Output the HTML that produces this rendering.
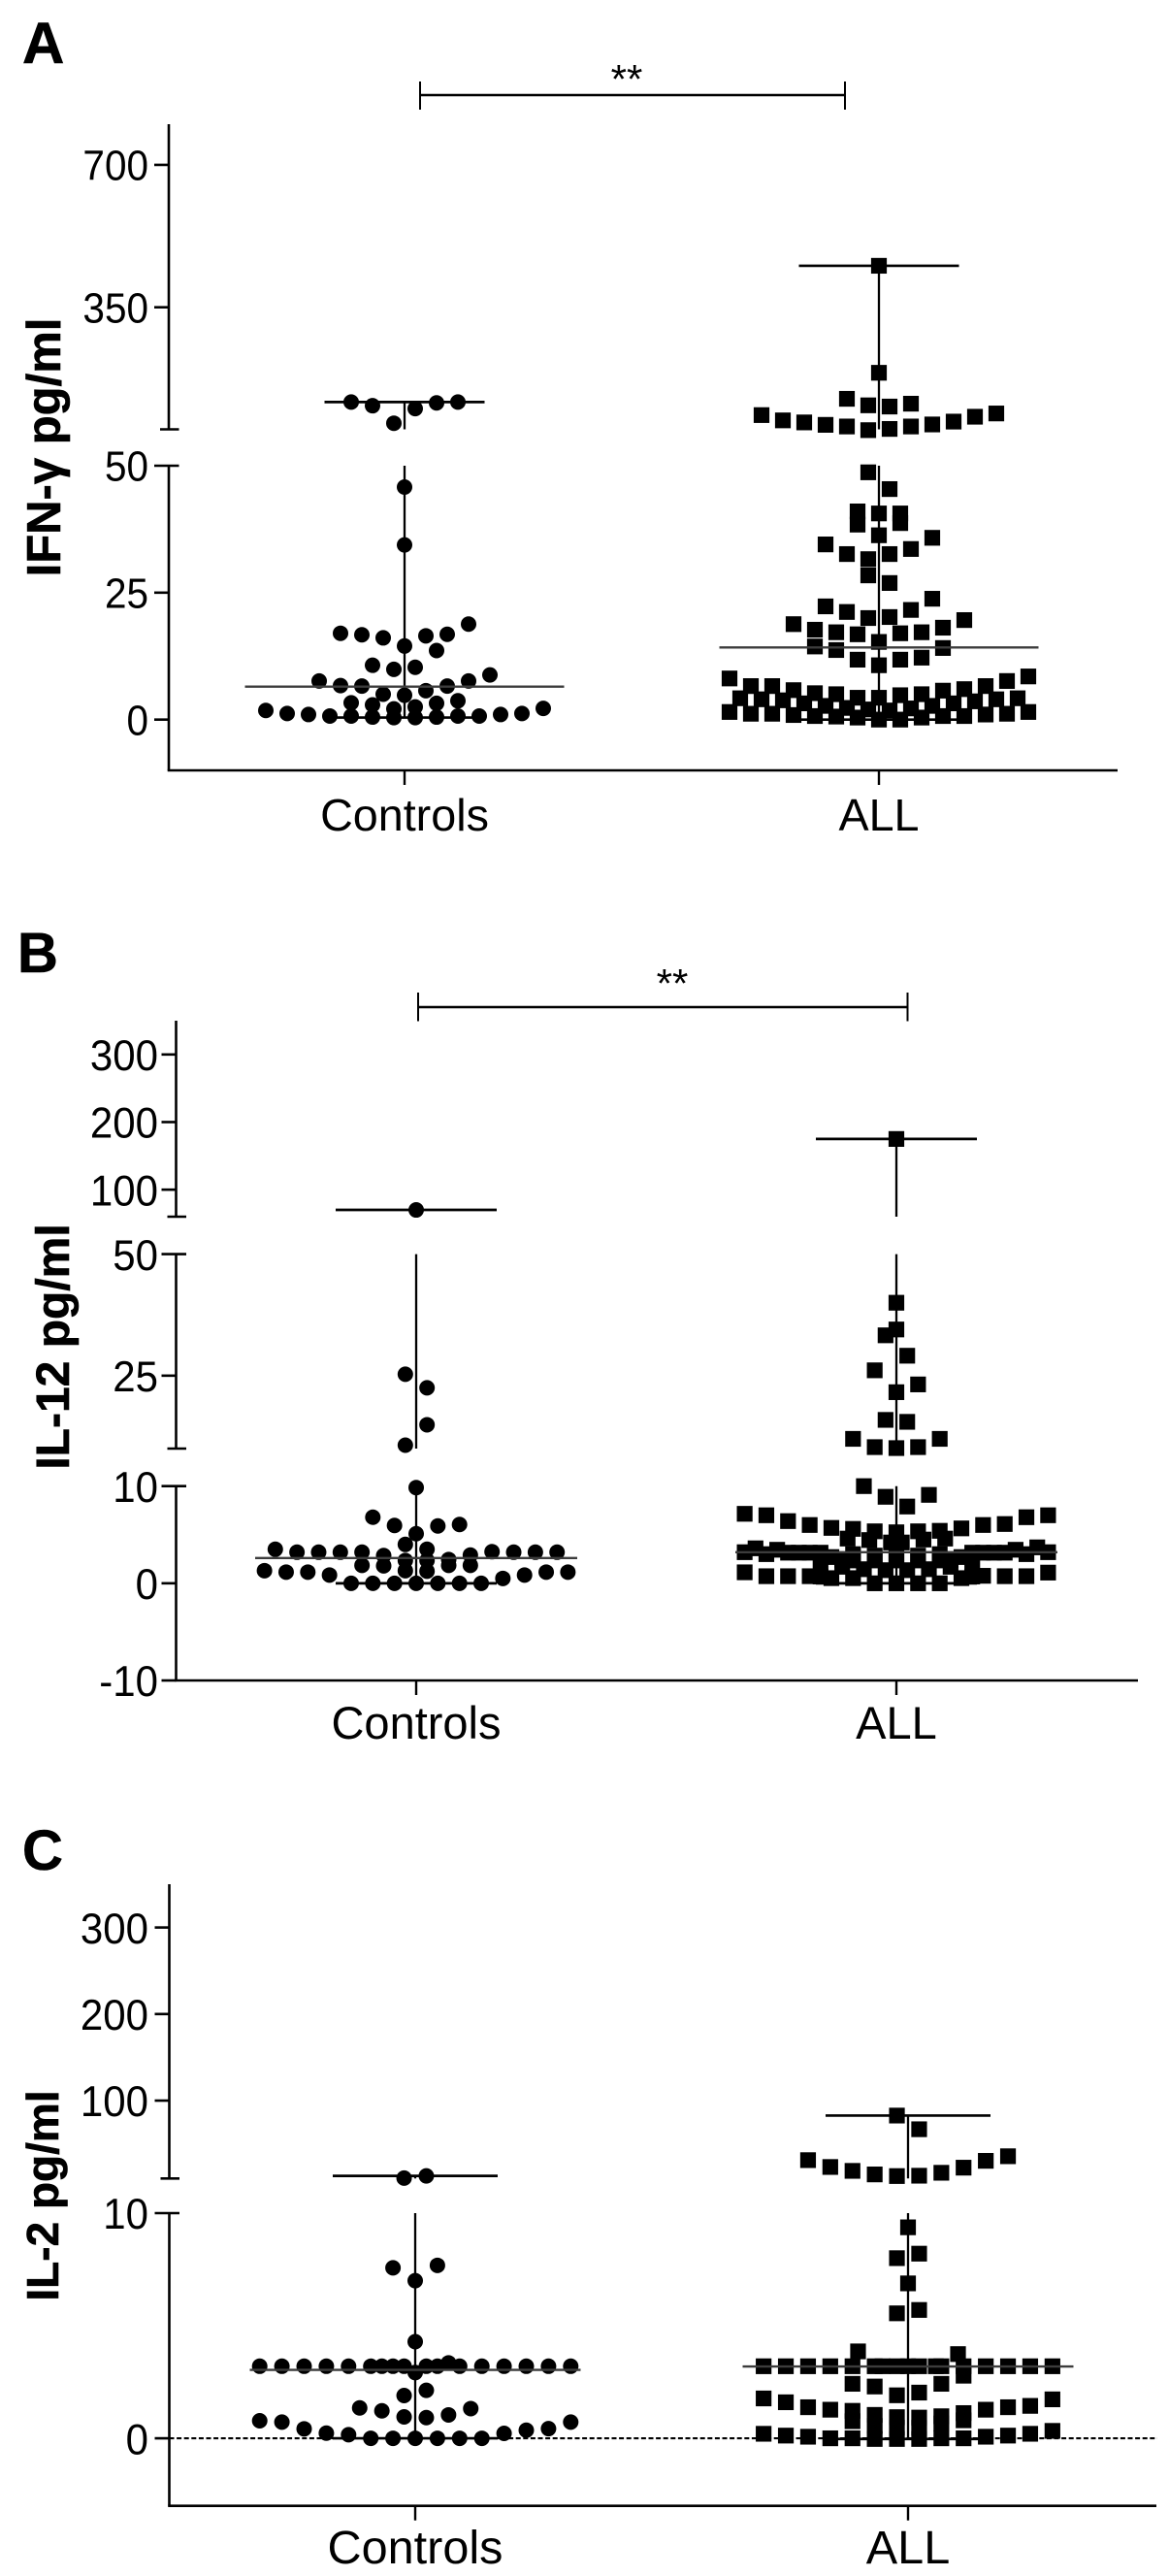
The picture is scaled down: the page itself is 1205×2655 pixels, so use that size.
<!DOCTYPE html>
<html lang="en">
<head>
<meta charset="utf-8">
<title>Cytokine levels in controls and ALL</title>
<style>
html,body{margin:0;padding:0;background:#fff;}
svg{display:block;}
text{font-family:"Liberation Sans",sans-serif;fill:#000;}
.title{font-weight:bold;stroke:#000;stroke-width:0.6;}
</style>
</head>
<body>
<svg id="figure" xmlns="http://www.w3.org/2000/svg" width="1205" height="2655" viewBox="0 0 1205 2655">
  <rect x="0" y="0" width="1205" height="2655" fill="#fff"/>

  <g id="panel-a">
    <text class="title" x="23" y="65" font-size="60">A</text>
    <text class="title" transform="translate(62 461) rotate(-90)" text-anchor="middle" font-size="49">IFN-γ pg/ml</text>
    <g stroke="#000" fill="none">
      <line x1="433" y1="98" x2="871" y2="98" stroke-width="2.4"/>
      <line x1="433" y1="84" x2="433" y2="113" stroke-width="2"/>
      <line x1="871" y1="84" x2="871" y2="113" stroke-width="2"/>
    </g>
    <text x="646" y="96" text-anchor="middle" font-size="42">**</text>
  </g>

  <g id="panel-b">
    <text class="title" x="18" y="1002" font-size="58">B</text>
    <text class="title" transform="translate(71 1388) rotate(-90)" text-anchor="middle" font-size="48">IL-12 pg/ml</text>
    <g stroke="#000" fill="none">
      <line x1="431" y1="1038" x2="935.5" y2="1038" stroke-width="2.4"/>
      <line x1="431" y1="1023" x2="431" y2="1052.5" stroke-width="2"/>
      <line x1="935.5" y1="1023" x2="935.5" y2="1052.5" stroke-width="2"/>
    </g>
    <text x="693" y="1028" text-anchor="middle" font-size="42">**</text>
  </g>

  <g id="panel-c">
    <text class="title" x="23" y="1927" font-size="58">C</text>
    <text class="title" transform="translate(60 2263) rotate(-90)" text-anchor="middle" font-size="46">IL-2 pg/ml</text>
  </g>
</svg>

<script>
// ---------- Shared categories ----------
const categories = ['Controls', 'ALL'];

// ---------- Panel A: IFN-gamma ----------
const aUpperTicks = [350, 700];
const aLowerTicks = [0, 25, 50];
const aMedians = [6.5, 14.2];

const aControlsUpperValues = [117, 108, 65, 101, 115, 117];
const aControlsUpperSlots = [-5, -3, -1, 1, 3, 5];
const aControlsLowerValues = [1.8, 1.2, 1.0, 0.7, 0.7, 0.5, 0.4, 0.4, 0.5, 0.7, 0.7, 1.0, 1.2, 2.2, 3.3, 2.9, 2.1, 2.5, 3.2, 3.7, 5.0, 4.8, 5.7, 7.6, 6.7, 6.6, 6.6, 7.6, 8.8, 10.7, 9.9, 10.3, 17.0, 16.7, 16.1, 14.5, 16.5, 13.6, 16.8, 18.8, 34.4, 45.8];
const aControlsLowerSlots = [-13, -11, -9, -7, -5, -3, -1, 1, 3, 5, 7, 9, 11, 13, -5, -3, -1, 1, 3, 5, -2, 0, 2, -8, -6, -4, 4, 6, 8, -3, -1, 1, -6, -4, -2, 0, 2, 3, 4, 6, 0, 0];

const aAllUpperValues = [452, 189, 125, 109, 106, 113, 85, 72, 67, 61, 57, 48, 51, 57, 62, 69, 81, 89];
const aAllUpperSlots = [0, 0, -3, -1, 1, 3, -11, -9, -7, -5, -3, -1, 1, 3, 5, 7, 9, 11];
const aAllLowerValues = [1.5, 1.15, 1.15, 0.9, 0.7, 0.6, 0.4, 0, 0, 0.4, 0.7, 0.7, 1.0, 1.15, 1.5, 4.2, 4.0, 3.8, 3.2, 2.7, 2.3, 2.0, 1.8, 2.2, 2.7, 3.2, 3.6, 4.0, 4.2, 8.1, 6.6, 6.6, 5.8, 5.2, 5.0, 4.3, 4.3, 4.8, 5.0, 5.7, 6.0, 6.6, 7.6, 8.5, 11.8, 10.7, 11.8, 12.2, 14.4, 13.7, 15.3, 14.1, 18.8, 17.7, 17.2, 16.8, 17.0, 17.2, 18.1, 19.6, 22.3, 21.2, 20.0, 20.2, 21.6, 23.8, 28.4, 26.9, 34.5, 32.6, 31.6, 32.6, 33.6, 35.8, 36.3, 41.0, 38.4, 40.6, 38.7, 40.6, 48.7, 45.4];
const aAllLowerSlots = [-14, -12, -10, -8, -6, -4, -2, 0, 2, 4, 6, 8, 10, 12, 14, -13, -11, -9, -7, -5, -3, -1, 1, 3, 5, 7, 9, 11, 13, -14, -12, -10, -8, -6, -4, -2, 0, 2, 4, 6, 8, 10, 12, 14, -2, 0, 2, 4, -6, -4, 0, 6, -8, -6, -4, -2, 2, 4, 6, 8, -5, -3, -1, 1, 3, 5, -1, 1, -5, -3, -1, 1, 3, 5, 0, -2, -2, 2, 2, 0, -1, 1];

// ---------- Panel B: IL-12 ----------
const bUpperTicks = [100, 200, 300];
const bMiddleTicks = [25, 50];
const bLowerTicks = ['-10', 0, 10];
const bMedians = [2.6, 3.2];

const bControlsUpperValues = [70];
const bControlsUpperSlots = [0];
const bControlsMiddleValues = [25.3, 22.5, 14.9, 10.7];
const bControlsMiddleSlots = [-1, 1, 1, -1];
const bControlsLowerValues = [0, 0, 0, 0, 0, 0, 0, 0.5, 0.85, 1.15, 1.15, 1.3, 1.15, 1.15, 0.85, 1.85, 1.8, 1.3, 1.25, 1.85, 1.85, 2.35, 2.35, 2.45, 3.5, 3.2, 3.2, 3.2, 3.2, 2.85, 4.0, 3.5, 2.9, 3.25, 3.2, 3.2, 3.2, 5.1, 9.85, 6.8, 5.95, 5.9, 6.05];
const bControlsLowerSlots = [-6, -4, -2, 0, 2, 4, 6, 8, 10, 12, 14, -14, -12, -10, -8, -5, -3, -1, 1, 3, 5, -1, 1, 3, -13, -11, -9, -7, -5, -3, -1, 1, 5, 7, 9, 11, 13, 0, 0, -4, -2, 2, 4];

const bAllUpperValues = [175];
const bAllUpperSlots = [0];
const bAllMiddleValues = [40.0, 34.5, 33.3, 29.1, 26.1, 23.2, 21.6, 15.9, 15.5, 12.0, 10.3, 10.1, 10.3, 12.0];
const bAllMiddleSlots = [0, 0, -1, 1, -2, 2, 0, -1, 1, -4, -2, 0, 2, 4];
const bAllLowerValues = [1.13, 0.73, 0.73, 0.73, 0.53, 0.53, 0, 0, 0, 0, 0.53, 0.77, 0.73, 0.73, 1.1, 1.85, 1.7, 1.45, 1.35, 1.35, 1.45, 1.7, 1.85, 0.7, 0.7, 3.2, 3.6, 3.0, 3.45, 3.15, 3.15, 3.15, 3.15, 2.7, 2.4, 3.2, 3.7, 3.0, 3.45, 3.15, 3.15, 3.15, 3.15, 2.7, 2.4, 2.35, 2.35, 2.35, 2.35, 2.35, 3.0, 2.85, 2.85, 2.85, 3.0, 5.6, 4.6, 5.35, 4.45, 5.25, 4.2, 4.2, 5.35, 4.5, 5.4, 4.6, 7.15, 7.0, 6.4, 6.0, 5.7, 5.65, 6.0, 6.1, 6.8, 7.0, 10.0, 8.9, 7.9, 9.1];
const bAllLowerSlots = [-14, -12, -10, -8, -6, -4, -2, 0, 2, 4, 6, 8, 10, 12, 14, -7, -5, -3, -1, 1, 3, 5, 7, -7, 7, -14, -13, -12, -11, -10, -9, -8, -7, -6, -5, 14, 13, 12, 11, 10, 9, 8, 7, 6, 5, -4, -2, 0, 2, 4, -4, -2, 0, 2, 4, -4, -4.5, -2, -2.5, 0, -0.5, 0.5, 2, 2.5, 4, 4.5, -14, -12, -10, -8, -6, 6, 8, 10, 12, 14, -3, -1, 1, 3];

// ---------- Panel C: IL-2 ----------
const cUpperTicks = [100, 200, 300];
const cLowerTicks = [0, 10];
const cMedians = [3.04, 3.19];

const cControlsUpperValues = [10.5, 13];
const cControlsUpperSlots = [-1, 1];
const cControlsLowerValues = [0, 0, 0, 0, 0, 0, 0.16, 0.23, 0.42, 0.72, 0.78, 0.22, 0.36, 0.43, 0.72, 1.35, 1.22, 0.95, 0.92, 1.04, 1.32, 1.9, 2.13, 3.2, 3.2, 3.2, 3.2, 3.2, 3.2, 3.2, 3.2, 3.2, 2.92, 3.2, 3.2, 3.35, 3.2, 3.2, 3.2, 3.2, 3.2, 3.2, 4.29, 7.57, 7.0, 7.68];
const cControlsLowerSlots = [-4, -2, 0, 2, 4, 6, -6, -8, -10, -12, -14, 8, 10, 12, 14, -5, -3, -1, 1, 3, 5, -1, 1, -14, -12, -10, -8, -6, -4, -3, -2, -1, 0, 1, 2, 3, 4, 6, 8, 10, 12, 14, 0, -2, 0, 2];

const cAllUpperValues = [82.7, 66.9, 31.2, 23.3, 18.8, 14.7, 12.8, 13.2, 16.6, 22.5, 30.4, 35.7];
const cAllUpperSlots = [-1, 1, -9, -7, -5, -3, -1, 1, 3, 5, 7, 9];
const cAllLowerValues = [9.37, 8.0, 8.2, 6.88, 5.55, 5.7, 3.86, 3.74, 3.2, 3.2, 3.2, 3.2, 3.2, 3.2, 3.2, 3.2, 3.2, 3.2, 3.2, 3.2, 3.2, 3.2, 3.2, 3.2, 3.2, 2.78, 2.42, 2.3, 1.91, 2.03, 2.42, 1.77, 1.6, 1.38, 1.27, 1.27, 1.38, 1.44, 1.73, 1.22, 0.76, 1.04, 0.55, -0.03, 0.94, 0.47, -0.03, 0.92, 0.47, -0.03, 0.98, 0.66, 1.12, 0.8, 0.2, 0.12, 0.07, 0, 0, 0, 0, 0.07, 0.12, 0.2, 0.33];
const cAllLowerSlots = [0, -1, 1, 0, -1, 1, -4.5, 4.5, -13, -11, -9, -7, -5, -3, -2.3, -1, 0, 1, 2.5, 3, 5, 7, 9, 11, 13, 5, -5, -3, -1, 1, 3, -13, -11, -9, -7, 7, 9, 11, 13, -5, -5, -3, -3, -3, -1, -1, -1, 1, 1, 1, 3, 3, 5, 5, -13, -11, -9, -7, -5, 3, 5, 7, 9, 11, 13];

// ---------- Drawing ----------
const SVG_NS = 'http://www.w3.org/2000/svg';

function make(parent, tag, attrs, text) {
  const el = document.createElementNS(SVG_NS, tag);
  for (const key in attrs) el.setAttribute(key, attrs[key]);
  if (text !== undefined) el.textContent = text;
  parent.appendChild(el);
  return el;
}

function linearScale(domain, range) {
  return function (v) {
    return range[0] + (v - domain[0]) * (range[1] - range[0]) / (domain[1] - domain[0]);
  };
}

function drawPanel(cfg) {
  const root = document.getElementById(cfg.id);
  const axisGroup = make(root, 'g', { stroke: '#000', fill: 'none' });
  
  

  cfg.segments.forEach(function (seg, si) {
    seg.scale = linearScale(seg.domain, seg.range);
    const spine = make(axisGroup, 'line', { x1: cfg.axisX, x2: cfg.axisX, y1: seg.range[0], y2: seg.range[1], 'stroke-width': 2.6 });
    
    

    if (seg.breakBottom) {
      const endCap = make(axisGroup, 'line', { x1: cfg.axisX - 9, x2: cfg.axisX + 10.5, y1: seg.range[0], y2: seg.range[0], 'stroke-width': 2.6 });
      
      
    }

    seg.ticks.forEach(function (label) {
      const y = seg.scale(Number(label));
      const extendRight = Number(label) === seg.domain[1] && si > 0;
      const tick = make(axisGroup, 'line', { x1: cfg.axisX - 15, x2: cfg.axisX + (extendRight ? 10.5 : 0), y1: y, y2: y, 'stroke-width': 2.6 });
      
      
      const baseline = y + cfg.tickFont * 0.36 * 1.07;
      const tickText = make(root, 'text', { transform: 'translate(' + cfg.labelX + ' ' + baseline + ') scale(1 1.07)', 'text-anchor': 'end', 'font-size': cfg.tickFont }, String(label));
      
      
    });
  });

  const xAxis = make(axisGroup, 'line', { x1: cfg.axisX - 1.3, x2: cfg.xEnd, y1: cfg.xAxisY, y2: cfg.xAxisY, 'stroke-width': 2.6 });
  
  

  if (cfg.zeroLine) {
    const zeroY = cfg.segments[cfg.segments.length - 1].scale(0);
    const zero = make(axisGroup, 'line', { x1: cfg.axisX, x2: cfg.zeroLine, y1: zeroY, y2: zeroY, 'stroke-width': 2.2, 'stroke-dasharray': '5 2.6' });
    
    
  }

  cfg.groups.forEach(function (group, gi) {
    const name = cfg.key + '-' + categories[gi].toLowerCase();
    const cx = group.center;
    const tick = make(axisGroup, 'line', { x1: cx, x2: cx, y1: cfg.xAxisY, y2: cfg.xAxisY + 15, 'stroke-width': 2.4 });
    
    

    const label = make(root, 'text', { x: cx, y: cfg.catBaseline, 'text-anchor': 'middle', 'font-size': cfg.catFont }, categories[gi]);
    
    

    const all = [].concat.apply([], group.values);
    const maxV = Math.max.apply(null, all);
    const minV = Math.min.apply(null, all);

    const stats = make(root, 'g', { stroke: '#000', fill: 'none' });
    
    

    cfg.segments.forEach(function (seg, si) {
      const hi = Math.min(maxV, seg.domain[1]);
      const lo = Math.max(minV, seg.domain[0]);
      if (hi <= lo) return;
      const stem = make(stats, 'line', { x1: cx, x2: cx, y1: seg.scale(hi), y2: seg.scale(lo), 'stroke-width': 2.3 });
      
      
    });

    const maxSeg = cfg.segments.find(function (s) { return maxV >= s.domain[0] && maxV <= s.domain[1]; }) || cfg.segments[0];
    const minSeg = cfg.segments[cfg.segments.length - 1];
    const maxCap = make(stats, 'line', { x1: cx - cfg.capHalf, x2: cx + cfg.capHalf, y1: maxSeg.scale(maxV), y2: maxSeg.scale(maxV), 'stroke-width': 2.7 });
    
    
    const minCap = make(stats, 'line', { x1: cx - cfg.capHalf, x2: cx + cfg.capHalf, y1: minSeg.scale(minV), y2: minSeg.scale(minV), 'stroke-width': 2.7 });
    
    

    const marks = make(root, 'g', { fill: '#000' });
    
    

    group.values.forEach(function (vals, si) {
      const seg = cfg.segments[si];
      vals.forEach(function (v, i) {
        const x = cx + group.slots[si][i] * cfg.slotPx;
        const y = seg.scale(v);
        let mark;
        if (gi === 0) {
          mark = make(marks, 'circle', { cx: x, cy: y, r: 8 });
        } else {
          mark = make(marks, 'rect', { x: x - 8.1, y: y - 8.1, width: 16.2, height: 16.2 });
        }
        
        
      });
    });

    const medianSeg = cfg.segments[cfg.segments.length - 1];
    const medY = medianSeg.scale(cfg.medians[gi]);
    const median = make(root, 'line', { x1: cx - cfg.medianHalf, x2: cx + cfg.medianHalf, y1: medY, y2: medY, stroke: '#3c3c3c', 'stroke-width': 2.4 });
    
    
  });
}

drawPanel({
  id: 'panel-a', key: 'panel-a', axisX: 174, xEnd: 1152, xAxisY: 794, labelX: 153, tickFont: 40.5,
  catBaseline: 856, catFont: 46.7, slotPx: 11, capHalf: 82.5, medianHalf: 164.5, medians: aMedians,
  segments: [
    { domain: [50, 800], range: [442.5, 128], ticks: aUpperTicks, breakBottom: true },
    { domain: [-10, 50], range: [794, 480], ticks: aLowerTicks }
  ],
  groups: [
    { center: 417, values: [aControlsUpperValues, aControlsLowerValues], slots: [aControlsUpperSlots, aControlsLowerSlots] },
    { center: 906, values: [aAllUpperValues, aAllLowerValues], slots: [aAllUpperSlots, aAllLowerSlots] }
  ]
});

drawPanel({
  id: 'panel-b', key: 'panel-b', axisX: 181.5, xEnd: 1173, xAxisY: 1732, labelX: 163, tickFont: 42,
  catBaseline: 1792, catFont: 47, slotPx: 11.17, capHalf: 83, medianHalf: 166, medians: bMedians,
  segments: [
    { domain: [60, 350], range: [1254, 1052], ticks: bUpperTicks, breakBottom: true },
    { domain: [10, 50], range: [1493, 1292.6], ticks: bMiddleTicks, breakBottom: true },
    { domain: [-10, 10], range: [1732, 1531.7], ticks: bLowerTicks }
  ],
  groups: [
    { center: 429, values: [bControlsUpperValues, bControlsMiddleValues, bControlsLowerValues], slots: [bControlsUpperSlots, bControlsMiddleSlots, bControlsLowerSlots] },
    { center: 924, values: [bAllUpperValues, bAllMiddleValues, bAllLowerValues], slots: [bAllUpperSlots, bAllMiddleSlots, bAllLowerSlots] }
  ]
});

drawPanel({
  id: 'panel-c', key: 'panel-c', axisX: 174.5, xEnd: 1192, xAxisY: 2582.7, labelX: 153, tickFont: 42,
  catBaseline: 2642, catFont: 48.6, slotPx: 11.45, capHalf: 85, medianHalf: 170.5, medians: cMedians, zeroLine: 1193,
  segments: [
    { domain: [10, 350], range: [2245.3, 1942], ticks: cUpperTicks, breakBottom: true },
    { domain: [-3, 10], range: [2582.7, 2281], ticks: cLowerTicks }
  ],
  groups: [
    { center: 428, values: [cControlsUpperValues, cControlsLowerValues], slots: [cControlsUpperSlots, cControlsLowerSlots] },
    { center: 936, values: [cAllUpperValues, cAllLowerValues], slots: [cAllUpperSlots, cAllLowerSlots] }
  ]
});
</script>
</body>
</html>
